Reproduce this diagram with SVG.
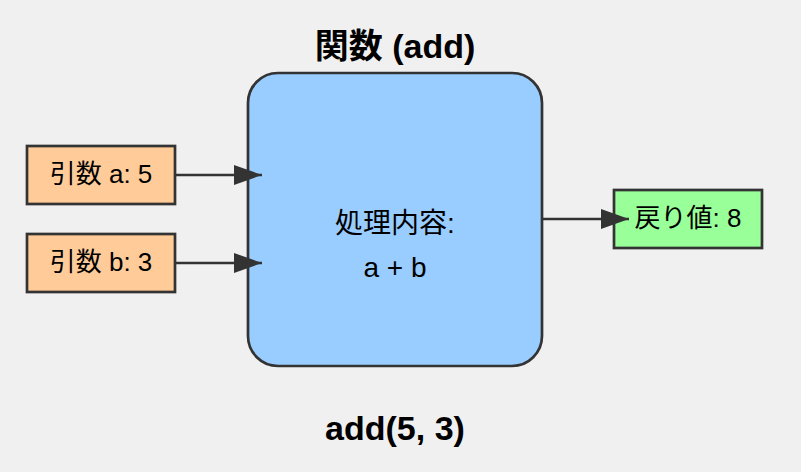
<svg xmlns="http://www.w3.org/2000/svg" width="801" height="472" viewBox="0 0 801 472">
<style>
text{font-family:"Liberation Sans","Noto Sans CJK JP",sans-serif;fill:#000;text-anchor:middle}
.title{font-size:34px;font-weight:bold}
.lbl{font-size:26px}
.mid{font-size:28px}
.box{stroke:#333;stroke-width:2.7}
.conn{stroke:#333;stroke-width:2.5;fill:none}
</style>
<defs>
<marker id="ah" viewBox="0 0 28 20" refX="28" refY="10" markerWidth="28" markerHeight="20" markerUnits="userSpaceOnUse" orient="auto">
<path d="M0,0 L28,10 L0,20 Z" fill="#333"/>
</marker>
</defs>
<rect width="801" height="472" fill="#f0f0f0"/>
<text class="title" x="395" y="58">関数 (add)</text>
<g id="func">
<rect class="box" x="248" y="73" width="294" height="293" rx="30" fill="#99ccff" stroke-width="3.6"/>
<text class="mid" x="395" y="233">処理内容:</text>
<text class="mid" x="395" y="277">a + b</text>
</g>
<g id="argA">
<rect class="box" x="27" y="146" width="148" height="58" fill="#ffcc99"/>
<text class="lbl" x="101" y="183">引数 a: 5</text>
</g>
<g id="argB">
<rect class="box" x="27" y="234" width="148" height="58" fill="#ffcc99"/>
<text class="lbl" x="101" y="271">引数 b: 3</text>
</g>
<g id="ret">
<rect class="box" x="614" y="190" width="148" height="58" fill="#99ff99"/>
<text class="lbl" x="688" y="227">戻り値: 8</text>
</g>
<g id="connectors">
<line class="conn" x1="175" y1="175" x2="262" y2="175" marker-end="url(#ah)"/>
<line class="conn" x1="175" y1="263" x2="262" y2="263" marker-end="url(#ah)"/>
<line class="conn" x1="542" y1="219" x2="629" y2="219" marker-end="url(#ah)"/>
</g>
<text class="title" x="395" y="440">add(5, 3)</text>
</svg>
